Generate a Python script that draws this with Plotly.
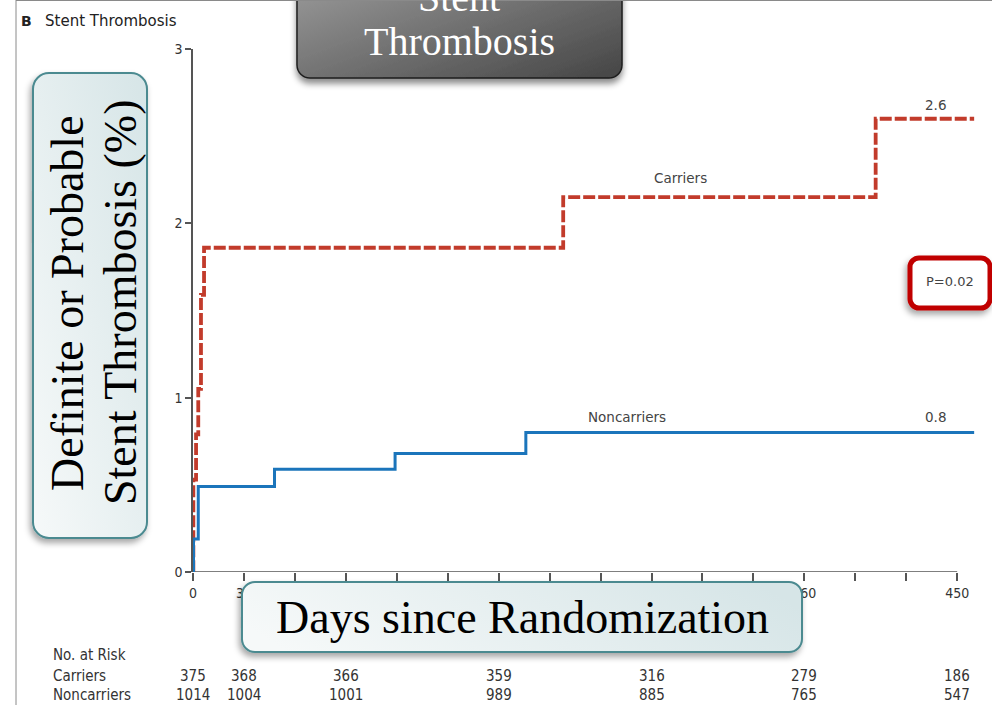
import base64
import plotly.graph_objects as go

# Kaplan-Meier style cumulative incidence, definite or probable stent thrombosis (%)
carrier_days = [0, 0.2, 1.8, 3.1, 4.7, 6.5, 218, 402, 460]
carrier_pct = [0, 0.53, 0.79, 1.05, 1.59, 1.86, 2.15, 2.6, 2.6]
noncarrier_days = [0, 0.3, 3.1, 48, 119, 196, 460]
noncarrier_pct = [0, 0.19, 0.49, 0.59, 0.68, 0.8, 0.8]

carrier_final = "2.6"
noncarrier_final = "0.8"
p_value_text = "P=0.02"

# axis ticks (labels under the axis-title panel are left blank)
x_minor_ticks = list(range(0, 451, 30))
x_labelled = [0, 30, 360, 450]
y_ticks = [0, 1, 2, 3]

# number at risk table
risk_days = [0, 30, 90, 180, 270, 360, 450]
risk_carriers = [375, 368, 366, 359, 316, 279, 186]
risk_noncarriers = [1014, 1004, 1001, 989, 885, 765, 547]

W, H = 992, 705


def px(x):
    return x / W


def py(y):
    return 1 - y / H


RED = "#c23b2b"
BLUE = "#1b75bb"
AXIS = "#555555"
TXT = "#333333"
SERIF = "Liberation Serif, Times New Roman, serif"
NARROW = "Liberation Sans Narrow, DejaVu Sans Condensed, Arial Narrow, sans-serif"
SANS = "DejaVu Sans, Lato, sans-serif"

fig = go.Figure()

fig.add_trace(go.Scatter(
    x=carrier_days, y=carrier_pct, mode="lines", line_shape="hv",
    line=dict(color=RED, width=3.8, dash="12px,3px"), name="Carriers",
    hoverinfo="skip"))
fig.add_trace(go.Scatter(
    x=noncarrier_days, y=noncarrier_pct, mode="lines", line_shape="hv",
    line=dict(color=BLUE, width=3), name="Noncarriers", hoverinfo="skip"))

x_ticktext = [str(t) if t in x_labelled else "" for t in x_minor_ticks]

fig.update_layout(
    width=W, height=H, margin=dict(l=0, r=0, t=0, b=0),
    paper_bgcolor="white", plot_bgcolor="white", showlegend=False,
    xaxis=dict(domain=[px(193), px(975)], range=[0, 460.5],
               tickvals=x_minor_ticks, ticktext=x_ticktext,
               ticks="outside", ticklen=8, tickwidth=1.5, tickcolor=AXIS,
               showline=False, showgrid=False, zeroline=False,
               automargin=False,
               tickfont=dict(family=NARROW, size=14, color=TXT)),
    yaxis=dict(domain=[py(572), py(49)], range=[0, 3],
               tickvals=y_ticks, ticks="outside", ticklen=6, tickwidth=1.5,
               tickcolor=AXIS, showline=True, linecolor=AXIS, linewidth=1.5,
               showgrid=False, zeroline=False, automargin=False,
               tickfont=dict(family=NARROW, size=14, color=TXT)),
)

shapes = [
    # x axis baseline up to the last labelled day
    dict(type="line", xref="x", yref="y", x0=0, x1=450, y0=0, y1=0,
         line=dict(color=AXIS, width=1.5), layer="below"),
    # page frame lines
    dict(type="line", xref="paper", yref="paper", x0=px(16), x1=px(16),
         y0=0, y1=1, line=dict(color="#8a8a8a", width=1)),
    dict(type="line", xref="paper", yref="paper", x0=px(16), x1=1,
         y0=py(0.5), y1=py(0.5), line=dict(color="#8a8a8a", width=1)),
]
fig.update_layout(shapes=shapes)


def box_image(left, top, right, bottom, radius, stops, grad, stroke, stroke_w,
              shadow, pad=14):
    w, h = right - left, bottom - top
    sw, sh = w + 2 * pad, h + 2 * pad
    stop_xml = "".join(
        f'<stop offset="{o}" stop-color="{c}"/>' for o, c in stops)
    dx, dy, blur, op = shadow
    svg = (
        f'<svg xmlns="http://www.w3.org/2000/svg" width="{sw}" height="{sh}" '
        f'viewBox="0 0 {sw} {sh}"><defs>'
        f'<linearGradient id="g" x1="{grad[0]}" y1="{grad[1]}" x2="{grad[2]}" y2="{grad[3]}">'
        f'{stop_xml}</linearGradient>'
        f'<filter id="s" x="-30%" y="-30%" width="160%" height="160%">'
        f'<feDropShadow dx="{dx}" dy="{dy}" stdDeviation="{blur}" '
        f'flood-color="#000" flood-opacity="{op}"/></filter></defs>'
        f'<rect x="{pad}" y="{pad}" width="{w}" height="{h}" rx="{radius}" ry="{radius}" '
        f'fill="url(#g)" stroke="{stroke}" stroke-width="{stroke_w}" filter="url(#s)"/>'
        f'</svg>')
    uri = "data:image/svg+xml;base64," + base64.b64encode(svg.encode()).decode()
    return dict(source=uri, xref="paper", yref="paper",
                x=px(left - pad), y=py(top - pad), sizex=sw / W, sizey=sh / H,
                xanchor="left", yanchor="top", sizing="stretch", layer="above")


images = [
    # dark heading panel
    box_image(297, -40, 622, 78, 13,
              [(0, "#a2a2a2"), (1, "#454545")], (0, 0, 1, 1),
              "#1e1e1e", 1.5, (0, 5, 3, 0.45)),
    # vertical axis title panel
    box_image(33, 73, 147, 538, 16,
              [(0, "#f6f9f9"), (1, "#d6e5e7")], (0, 1, 1, 0),
              "#4b8a90", 2, (-2, 4, 3, 0.35)),
    # horizontal axis title panel
    box_image(242, 582, 802, 652, 13,
              [(0, "#f6f9f9"), (1, "#d6e5e7")], (0, 0.6, 1, 0.4),
              "#4b8a90", 2, (-2, 4, 3, 0.35)),
    # p-value badge
    box_image(910, 258, 990, 308, 9,
              [(0, "#ffffff"), (1, "#ffffff")], (0, 0, 1, 1),
              "#c00000", 5, (-2, 4, 3, 0.35)),
]
fig.update_layout(images=images)

ann = []


def note(x, y, text, font, xref="paper", yref="paper", xanchor="center",
         yanchor="middle", **kw):
    ann.append(dict(x=x, y=y, xref=xref, yref=yref, text=text, font=font,
                    showarrow=False, xanchor=xanchor, yanchor=yanchor, **kw))


# panel heading
note(px(19), py(21), "<b>B</b>", dict(family="DejaVu Sans", size=14, color="#222"),
     xanchor="left")
note(px(43), py(21), "Stent Thrombosis",
     dict(family=SANS, size=15, color="#222"), xanchor="left")

# curve labels
lab = dict(family=SANS, size=13.5, color="#444")
note(287, 2.2, "Carriers", lab, xref="x", yref="y", yanchor="bottom")
note(255.5, 0.83, "Noncarriers", lab, xref="x", yref="y", yanchor="bottom")
note(437.5, carrier_pct[-1], carrier_final, lab, xref="x", yref="y",
     yanchor="bottom", yshift=4)
note(437.5, noncarrier_pct[-1], noncarrier_final, lab, xref="x", yref="y",
     yanchor="bottom", yshift=6)

# p value
note(px(950), py(281), p_value_text, dict(family=SANS, size=13, color="#444"))

# heading panel text
hfont = dict(family=SERIF, size=40, color="white")
note(px(459), py(-3), "Stent", hfont)
note(px(459), py(42), "Thrombosis", hfont)

# axis titles inside panels
tfont = dict(family=SERIF, size=46, color="black")
note(px(67), py(303), "Definite or Probable", tfont, textangle=-90)
note(px(120), py(303), "Stent Thrombosis (%)", tfont, textangle=-90)
note(px(522), py(617), "Days since Randomization", tfont)

# number at risk
rfont = dict(family=NARROW, size=15, color=TXT)
note(px(51), py(655), "No. at Risk", rfont, xanchor="left")
note(px(51), py(676), "Carriers", rfont, xanchor="left")
note(px(51), py(695), "Noncarriers", rfont, xanchor="left")
for d, c, n in zip(risk_days, risk_carriers, risk_noncarriers):
    note(d, py(676), str(c), rfont, xref="x")
    note(d, py(695), str(n), rfont, xref="x")

fig.update_layout(annotations=ann)

fig.write_html("out.html")
